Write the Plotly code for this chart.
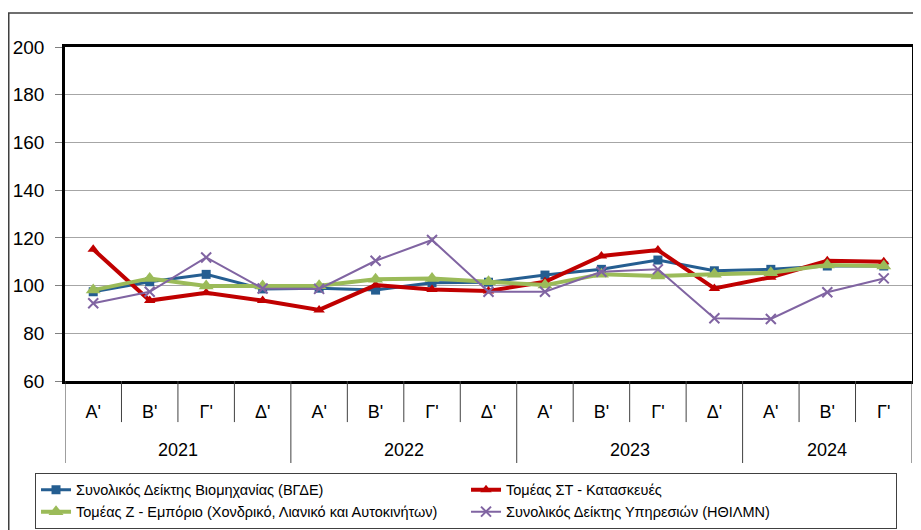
import plotly.graph_objects as go

quarters = ["Α'", "Β'", "Γ'", "Δ'", "Α'", "Β'", "Γ'", "Δ'", "Α'", "Β'", "Γ'", "Δ'", "Α'", "Β'", "Γ'"]
years = ["2021", "2022", "2023", "2024"]
year_counts = [4, 4, 4, 3]

industry = [97.4, 101.6, 104.7, 98.6, 98.9, 98.1, 101.2, 101.4, 104.4, 106.8, 110.7, 106.2, 106.8, 108.2, 108.2]
construction = [115.2, 93.7, 97.0, 93.7, 89.8, 100.2, 98.4, 97.7, 101.6, 112.4, 114.9, 98.8, 103.5, 110.4, 110.0]
trade = [98.1, 103.0, 99.8, 99.8, 99.9, 102.6, 103.0, 101.6, 100.2, 104.7, 104.0, 104.7, 105.4, 108.6, 108.2]
services = [92.6, 97.4, 111.8, 98.8, 98.6, 110.4, 119.1, 97.4, 97.4, 105.8, 106.8, 86.3, 86.0, 97.2, 103.0]

names = [
    "Συνολικός Δείκτης Βιομηχανίας (ΒΓΔΕ)",
    "Τομέας ΣΤ - Κατασκευές",
    "Τομέας Ζ - Εμπόριο (Χονδρικό, Λιανικό και Αυτοκινήτων)",
    "Συνολικός Δείκτης Υπηρεσιών (ΗΘΙΛΜΝ)",
]
y_ticks = [60, 80, 100, 120, 140, 160, 180, 200]

FONT = "Liberation Sans, Arial, sans-serif"
x = list(range(len(quarters)))

fig = go.Figure()
fig.add_trace(go.Scatter(x=x, y=industry, name=names[0], mode="lines+markers",
                         line=dict(color="#255E91", width=3),
                         marker=dict(symbol="square", size=9, color="#255E91")))
fig.add_trace(go.Scatter(x=x, y=construction, name=names[1], mode="lines+markers",
                         line=dict(color="#C00000", width=4),
                         marker=dict(symbol="triangle-up", size=10, color="#C00000")))
fig.add_trace(go.Scatter(x=x, y=trade, name=names[2], mode="lines+markers",
                         line=dict(color="#9BBB59", width=4),
                         marker=dict(symbol="triangle-up", size=13, color="#9BBB59")))
fig.add_trace(go.Scatter(x=x, y=services, name=names[3], mode="lines+markers",
                         line=dict(color="#8064A2", width=2),
                         marker=dict(symbol="x-thin", size=10, color="#8064A2",
                                     line=dict(color="#8064A2", width=2))))

shapes = []
annotations = []
start = 0
bounds = [-0.5]
for yr, cnt in zip(years, year_counts):
    annotations.append(dict(x=start + (cnt - 1) / 2, y=-0.207, xref="x", yref="paper",
                            yanchor="middle", xanchor="center",
                            text=yr, showarrow=False, font=dict(size=18, color="black", family=FONT)))
    for k in range(1, cnt):
        xb = start + k - 0.5
        shapes.append(dict(type="line", xref="x", yref="paper", x0=xb, x1=xb, y0=0, y1=-0.123,
                           line=dict(color="#404040", width=1)))
    start += cnt
    bounds.append(start - 0.5)
for xb in bounds:
    shapes.append(dict(type="line", xref="x", yref="paper", x0=xb, x1=xb, y0=0, y1=-0.2455,
                       line=dict(color="#404040", width=1)))
shapes.append(dict(type="rect", xref="paper", yref="paper", x0=-0.0664, x1=1.0094, y0=-0.47, y1=1.1018,
                   line=dict(color="#404040", width=1.5), layer="below"))

fig.update_layout(
    width=913, height=522,
    margin=dict(l=57, r=9, t=39, b=149, autoexpand=False),
    paper_bgcolor="white", plot_bgcolor="white",
    font=dict(family=FONT, color="black"),
    showlegend=True,
    legend=dict(orientation="h", x=-0.0354, y=-0.275, xanchor="left", yanchor="top",
                entrywidth=385, entrywidthmode="pixels",
                bordercolor="#404040", borderwidth=1, bgcolor="white",
                font=dict(size=14.5, family=FONT), traceorder="normal"),
    shapes=shapes, annotations=annotations,
    xaxis=dict(range=[-0.5, len(quarters) - 0.5], tickvals=x, ticktext=quarters,
               showgrid=False, zeroline=False, ticks="", ticklabelstandoff=13,
               showline=True, linecolor="black", linewidth=2.5, mirror=True,
               tickfont=dict(size=18, family=FONT)),
    yaxis=dict(range=[60, 200], tickvals=y_ticks, showgrid=True, gridcolor="#A6A6A6", gridwidth=1,
               zeroline=False, ticks="outside", ticklen=7, tickcolor="#808080", ticklabelstandoff=7,
               showline=True, linecolor="black", linewidth=2.5, mirror=True,
               tickfont=dict(size=19, family=FONT)),
)

fig.write_html("out.html")
